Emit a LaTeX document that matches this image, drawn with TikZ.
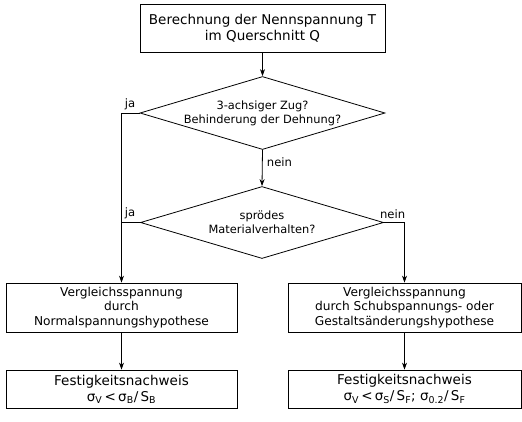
\documentclass[tikz,border=0pt]{standalone}
\usepackage{fontspec}
\setmainfont{DejaVu Sans}
\usetikzlibrary{shapes.geometric,arrows.meta}
\begin{document}
\begin{tikzpicture}[x=1pt,y=-1pt,
  line width=0.8pt,
  box/.style={draw, rectangle, inner sep=0pt, align=center},
  bigtxt/.style={font=\fontsize{13.5}{16}\selectfont},
  smalltxt/.style={font=\fontsize{12.2}{14.5}\selectfont},
  dia/.style={draw, shape=diamond, inner sep=0pt, minimum width=245pt, minimum height=73pt},
  diatxt/.style={align=center, inner sep=0pt, font=\fontsize{11.4}{14}\selectfont},
  lbl/.style={font=\fontsize{11.6}{14}\selectfont, inner sep=0pt},
  arr/.style={-{Stealth[length=7pt,width=5pt]}}
]
\useasboundingbox (0,0) rectangle (522,421);

\node[box, bigtxt, minimum width=245pt, minimum height=48pt] (top) at (262.5,28)
  {Berechnung der Nennspannung T\\im Querschnitt Q};
\node[dia] (d1) at (262.5,113) {};
\node[diatxt] (d1t) at (d1.center) {3-achsiger Zug?\\Behinderung der Dehnung?};
\node[dia, minimum width=243pt, minimum height=72pt] (d2) at (262,222.5) {};
\node[diatxt] (d2t) at (d2.center) {sprödes\\Materialverhalten?};
\node[box, smalltxt, minimum width=231pt, minimum height=49pt] (l1) at (121.5,307.5)
  {Vergleichsspannung\\durch\\Normalspannungshypothese};
\node[box, smalltxt, minimum width=233pt, minimum height=49pt] (r1) at (404.5,307.5)
  {Vergleichsspannung\\durch Schubspannungs- oder\\Gestaltsänderungshypothese};
\node[box, bigtxt, minimum width=231pt, minimum height=38pt] (l2) at (121.5,389)
  {Festigkeitsnachweis\\σ\textsubscript{V}\,<\,σ\textsubscript{B}/\,S\textsubscript{B}};
\node[box, bigtxt, minimum width=233pt, minimum height=38pt] (r2) at (404.5,389)
  {Festigkeitsnachweis\\σ\textsubscript{V}\,<\,σ\textsubscript{S}/\,S\textsubscript{F}; σ\textsubscript{0.2}/\,S\textsubscript{F}};

\coordinate (jaA) at (d1.west -| l1.north);
\coordinate (jaB) at (d2.west -| l1.north);
\coordinate (neinR) at (d2.east -| r1.north);

\draw[arr] (top.south) -- (d1.north);
\draw[arr] (d1.west) -- (jaA) -- (l1.north);
\draw (d2.west) -- (jaB);
\draw[arr] (d1.south) -- (d2.north);
\draw[arr] (d2.east) -- (neinR) -- (r1.north);
\draw[arr] (l1.south) -- (l2.north);
\draw[arr] (r1.south) -- (r2.north);

\node[lbl, anchor=south west] (ja1) at ([xshift=3pt,yshift=3pt]jaA) {ja};
\node[lbl, anchor=south west] (ja2) at ([xshift=3pt,yshift=3pt]jaB) {ja};
\node[lbl, anchor=west] (nein1) at ([xshift=4pt,yshift=-12pt]d1.south) {nein};
\node[lbl, anchor=south east] (nein2) at ([xshift=1pt,yshift=3pt]neinR) {nein};
\end{tikzpicture}
\end{document}
